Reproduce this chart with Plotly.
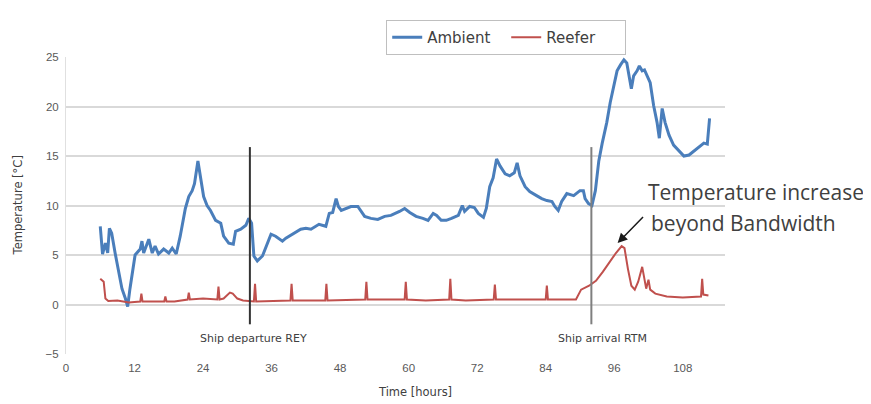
import plotly.graph_objects as go

# ---------------- data ----------------
amb_h = [6.0, 6.4, 6.9, 7.3, 7.6, 8.0, 8.6, 9.2, 9.8, 10.4, 10.8, 11.2, 12.1, 13.0, 13.3, 13.6,
         14.5, 15.1, 15.6, 16.2, 17.1, 18.0, 18.6, 19.3, 20.0, 20.9, 21.5, 22.1, 22.5, 23.1,
         23.6, 24.1, 24.7, 25.3, 26.2, 27.1, 27.6, 28.5, 29.3, 29.7, 30.6, 31.5, 32.0, 32.5,
         32.9, 33.5, 34.4, 35.3, 35.9, 36.7, 37.9, 38.5, 39.9, 41.1, 42.0, 42.9, 44.3, 45.5,
         46.1, 46.7, 47.3, 47.7, 48.2, 49.0, 49.9, 51.1, 51.7, 52.3, 53.4, 54.6, 55.8, 56.9,
         58.4, 59.3, 60.2, 61.3, 62.5, 63.4, 64.3, 64.9, 65.7, 66.6, 67.5, 68.7, 69.4, 69.8,
         70.7, 71.5, 72.2, 73.1, 73.6, 74.2, 74.8, 75.4, 76.0, 76.9, 77.7, 78.5, 79.0, 79.5,
         80.4, 81.2, 82.4, 83.3, 84.2, 85.1, 85.6, 86.2, 86.8, 87.7, 88.9, 90.0, 90.6, 90.9,
         91.5, 92.1, 92.7, 93.3, 93.9, 94.7, 95.3, 95.9, 96.5, 97.1, 97.7, 98.2, 98.5, 99.0,
         99.4, 100.0, 100.4, 100.9, 101.3, 101.8, 102.3, 102.9, 103.5, 103.9, 104.4, 104.9,
         105.6, 106.4, 107.3, 108.2, 109.1, 110.2, 111.1, 111.7, 112.3, 112.7]
amb_t = [7.9, 5.1, 6.2, 5.2, 7.7, 7.2, 5.2, 3.3, 1.6, 0.6, -0.2, 1.6, 5.0, 5.6, 6.4, 5.2,
         6.6, 5.2, 5.9, 5.1, 5.6, 5.2, 5.7, 5.1, 6.9, 9.7, 10.9, 11.5, 12.2, 14.5,
         12.5, 10.9, 10.0, 9.5, 8.5, 8.2, 6.9, 6.2, 6.1, 7.4, 7.6, 8.0, 8.7, 8.2,
         4.9, 4.4, 4.9, 6.2, 7.1, 6.9, 6.4, 6.7, 7.2, 7.6, 7.7, 7.6, 8.1, 7.9,
         9.2, 9.3, 10.7, 9.9, 9.5, 9.7, 9.9, 9.9, 9.4, 8.9, 8.7, 8.6, 8.9, 9.0,
         9.4, 9.7, 9.3, 8.9, 8.7, 8.5, 9.2, 9.0, 8.5, 8.5, 8.7, 9.0, 10.0, 9.4,
         9.9, 9.8, 9.2, 8.8, 9.7, 11.9, 12.8, 14.7, 14.0, 13.2, 13.0, 13.3, 14.3, 13.0,
         11.9, 11.4, 11.0, 10.7, 10.5, 10.4, 9.9, 9.5, 10.4, 11.2, 11.0, 11.5, 11.5, 10.7,
         10.2, 10.0, 11.5, 14.5, 16.3, 18.4, 20.4, 22.1, 23.6, 24.2, 24.7, 24.4, 23.4, 21.8,
         23.1, 23.6, 24.1, 23.6, 23.7, 23.1, 22.4, 20.1, 18.4, 16.8, 19.8, 18.4,
         17.1, 16.1, 15.5, 15.0, 15.1, 15.6, 16.0, 16.3, 16.2, 18.8]

ref_h = [6.0, 6.6, 6.9, 7.4, 9.0, 10.0, 11.0, 12.0, 13.0, 13.2, 13.4, 15.0, 17.2, 17.4, 17.6,
         19.0, 21.3, 21.5, 21.7, 24.0, 26.5, 26.7, 26.9, 27.6, 28.7, 29.2, 30.0, 31.0, 32.9,
         33.1, 33.3, 39.3, 39.5, 39.7, 45.4, 45.6, 45.8, 52.4, 52.6, 52.8, 59.3, 59.5, 59.7,
         63.0, 67.1, 67.3, 67.5, 70.0, 74.9, 75.1, 75.3, 80.0, 84.0, 84.2, 84.4, 89.3, 90.2,
         91.6, 92.8, 94.0, 95.2, 96.3, 97.3, 97.8, 98.4, 99.0, 99.6, 100.2, 100.9, 101.2,
         101.6, 102.0, 102.3, 103.2, 105.2, 108.0, 111.2, 111.4, 111.6, 112.5]
ref_t = [2.6, 2.3, 0.6, 0.35, 0.4, 0.3, 0.2, 0.25, 0.3, 1.1, 0.3, 0.3, 0.3, 0.8, 0.3,
         0.3, 0.5, 1.2, 0.5, 0.6, 0.5, 1.8, 0.5, 0.6, 1.2, 1.1, 0.6, 0.4, 0.3,
         2.1, 0.3, 0.4, 2.1, 0.4, 0.4, 2.1, 0.4, 0.5, 2.3, 0.5, 0.5, 2.3, 0.5,
         0.4, 0.5, 2.6, 0.5, 0.4, 0.5, 2.0, 0.5, 0.5, 0.5, 1.9, 0.5, 0.5, 1.5,
         1.9, 2.4, 3.3, 4.3, 5.2, 5.9, 5.7, 3.6, 1.9, 1.5, 2.3, 3.8, 2.9,
         1.6, 2.5, 1.5, 1.1, 0.8, 0.7, 0.8, 2.6, 1.0, 0.9]

x_ticks = [0, 12, 24, 36, 48, 60, 72, 84, 96, 108]
y_ticks = [-5, 0, 5, 10, 15, 20, 25]

event_h = [32.2, 92.0]
event_labels = ["Ship departure REY", "Ship arrival RTM"]
event_colors = ["#333333", "#7f7f7f"]

# ---------------- figure ----------------
fig = go.Figure()
fig.add_trace(go.Scatter(x=amb_h, y=amb_t, mode="lines", name="Ambient",
                         line=dict(color="#4a7ebb", width=3)))
fig.add_trace(go.Scatter(x=ref_h, y=ref_t, mode="lines", name="Reefer",
                         line=dict(color="#c0504d", width=2)))

label_font = dict(family="DejaVu Sans", size=11, color="#404040")
for h, lab, col, xs in zip(event_h, event_labels, event_colors, [4, 11]):
    fig.add_shape(type="line", xref="x", yref="y", x0=h, x1=h, y0=-2.0, y1=15.9,
                  line=dict(color=col, width=2))
    fig.add_annotation(x=h, y=-3.4, xref="x", yref="y", text=lab, showarrow=False,
                       xanchor="center", xshift=xs, font=label_font)

note_font = dict(family="Open Sans", size=21, color="#404040")
fig.add_annotation(x=101.6, y=11.4, xref="x", yref="y", text="Temperature increase",
                   showarrow=False, xanchor="left", font=note_font)
fig.add_annotation(x=102.1, y=8.2, xref="x", yref="y", text="beyond Bandwidth",
                   showarrow=False, xanchor="left", font=note_font)
fig.add_annotation(x=96.6, y=6.2, ax=101.3, ay=9.0, xref="x", yref="y",
                   axref="x", ayref="y", text="", showarrow=True,
                   arrowhead=2, arrowsize=1.3, arrowwidth=1.5, arrowcolor="#1a1a1a")

# axis titles as annotations (placed like the original)
title_font = dict(family="DejaVu Sans", size=11.5, color="#404040")
fig.add_annotation(x=0.53, y=-0.128, xref="paper", yref="paper", text="Time [hours]",
                   showarrow=False, xanchor="center", yanchor="middle", font=title_font)
fig.add_annotation(x=-0.073, y=0.5, xref="paper", yref="paper", text="Temperature [°C]",
                   showarrow=False, textangle=-90, xanchor="center", yanchor="middle",
                   font=title_font)

axis_font = dict(family="Liberation Sans, Arial", size=11.5, color="#595959")
fig.update_xaxes(range=[0, 115.4], tickvals=x_ticks, showgrid=False, zeroline=False,
                 showline=False, ticks="", tickfont=axis_font, automargin=False,
                 ticklabelstandoff=5)
fig.update_yaxes(range=[-5, 25], tickvals=y_ticks, showgrid=True, gridcolor="#d9d9d9",
                 gridwidth=1.5, zeroline=False, showline=True, linecolor="#e0e0e0",
                 ticks="", tickfont=axis_font, automargin=False, ticklabelstandoff=4)

fig.update_layout(
    width=863, height=396,
    margin=dict(l=58, r=146, t=42, b=50),
    paper_bgcolor="white", plot_bgcolor="white",
    showlegend=True,
    legend=dict(orientation="h", x=0.668, y=1.125, xanchor="center", yanchor="top",
                entrywidth=74,
                bordercolor="#bfbfbf", borderwidth=1,
                font=dict(family="DejaVu Sans", size=15, color="#404040")),
)

fig.write_html("out.html")
